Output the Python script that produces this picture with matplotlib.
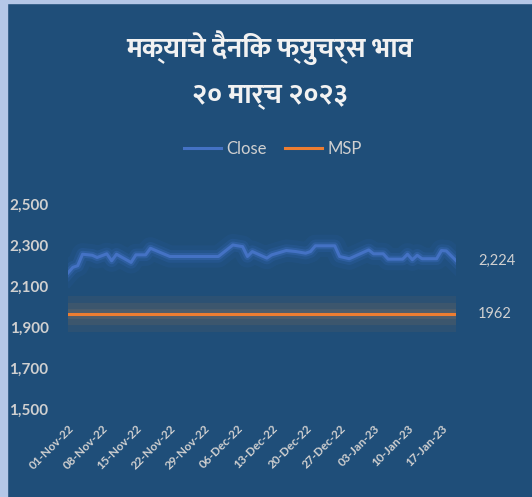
import matplotlib
matplotlib.use("Agg")
import matplotlib.pyplot as plt
import matplotlib.patheffects as pe
from matplotlib.lines import Line2D
from datetime import datetime, timedelta

title_text = "मक्याचे दैनिक फ्युचर्स भाव\n२० मार्च २०२३"
start = datetime(2022, 11, 1)

# day offsets from 01-Nov-22 and close price
close_days = [0, 1, 2, 3, 5, 6, 8, 9, 10, 13, 14, 16, 17, 21, 31, 34, 36, 37, 38,
              41, 42, 45, 47, 49, 50, 51, 55, 56, 58, 62, 63, 65, 66, 69, 70, 71,
              72, 73, 76, 77, 78, 80]
close_vals = [2164, 2191, 2199, 2255, 2250, 2239, 2257, 2223, 2255, 2215, 2252, 2252,
              2284, 2244, 2244, 2300, 2292, 2244, 2268, 2236, 2252, 2273, 2268, 2260,
              2268, 2296, 2296, 2244, 2233, 2276, 2257, 2257, 2231, 2231, 2255, 2228,
              2250, 2233, 2233, 2273, 2271, 2224]
msp = 1962
yticks = [1500, 1700, 1900, 2100, 2300, 2500]

dates = [start + timedelta(days=d) for d in close_days]
bg = "#1F4E79"
txt = "#D0D0D0"
latin = ["Lato", "DejaVu Sans"]
deva = ["Ek Mukta", "Noto Sans Devanagari", "DejaVu Sans"]

fig = plt.figure(figsize=(5.32, 4.97), dpi=100, facecolor=bg)
# light frame on the left / top edge
fig.patches.append(plt.Rectangle((0, 0), 7 / 532, 1, transform=fig.transFigure,
                                 color="#B4C7E7", zorder=0))
fig.patches.append(plt.Rectangle((0, 1 - 3 / 497), 1, 3 / 497, transform=fig.transFigure,
                                 color="#B4C7E7", zorder=0))

ax = fig.add_axes([68 / 532, 88 / 497, 388 / 532, 205 / 497])
ax.set_facecolor(bg)

glow_blue = [pe.Stroke(linewidth=16, foreground="#2A5CA0", alpha=0.18),
             pe.Stroke(linewidth=9, foreground="#3062AA", alpha=0.3),
             pe.Stroke(linewidth=5, foreground="#3A6BB8", alpha=0.45), pe.Normal()]
glow_gray = [pe.Stroke(linewidth=26, foreground="#5E5E5E", alpha=0.22),
             pe.Stroke(linewidth=16, foreground="#626262", alpha=0.3),
             pe.Stroke(linewidth=7, foreground="#6A6A6A", alpha=0.4), pe.Normal()]

ax.plot(dates, close_vals, color="#4472C4", lw=2.2, path_effects=glow_blue)
ax.plot([dates[0], dates[-1]], [msp, msp], color="#ED7D31", lw=2.2, path_effects=glow_gray)

ax.set_xlim(dates[0], dates[-1])
ax.set_ylim(1500, 2500)
ax.set_yticks(yticks)
ax.set_yticklabels([f"{v:,}" for v in yticks], color=txt, fontsize=11,
                   fontweight="bold", family=latin)
ticks = [start + timedelta(days=7 * i) for i in range(12)]
ax.set_xticks(ticks)
ax.set_xticklabels([t.strftime("%d-%b-%y") for t in ticks], rotation=45, ha="right",
                   rotation_mode="anchor", color=txt, fontsize=8.5, fontweight="bold",
                   family=latin)
ax.tick_params(axis="both", length=0)
ax.tick_params(axis="y", pad=14)
ax.tick_params(axis="x", pad=10)
for s in ax.spines.values():
    s.set_visible(False)

ax.annotate(f"{close_vals[-1]:,}", (dates[-1], close_vals[-1]), xytext=(16, 0),
            textcoords="offset points", va="center", color=txt, fontsize=10.5, family=latin)
ax.annotate(f"{msp}", (dates[-1], msp), xytext=(16, 0),
            textcoords="offset points", va="center", color=txt, fontsize=10.5, family=latin)

handles = [Line2D([], [], color="#4472C4", lw=2.2), Line2D([], [], color="#ED7D31", lw=2.2)]
leg = fig.legend(handles, ["Close", "MSP"], loc="center",
                 bbox_to_anchor=(273 / 532, 1 - 149 / 497), ncol=2, frameon=False,
                 fontsize=12, handlelength=2.2, columnspacing=1.1, handletextpad=0.35)
for t in leg.get_texts():
    t.set_color(txt)
    t.set_family(latin)

fig.text(270 / 532, 1 - 70 / 497, title_text, ha="center", va="center", color="#F2F2F2",
         fontsize=20, fontweight="bold", family=deva, linespacing=1.75)

fig.savefig("out.png", dpi=100, facecolor=bg)
